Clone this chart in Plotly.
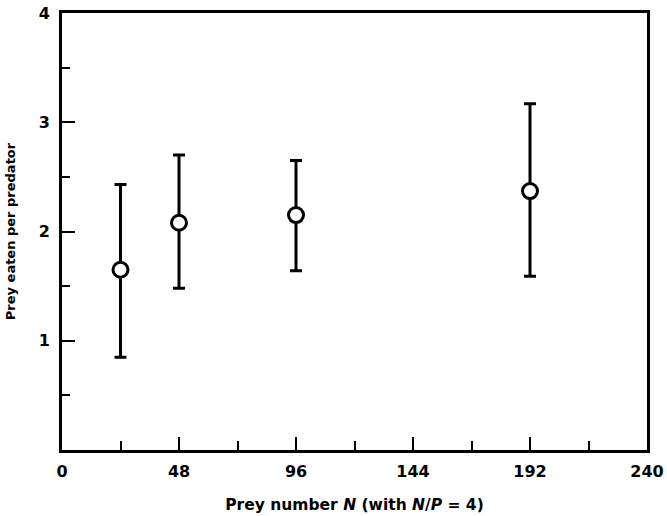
import plotly.graph_objects as go

prey_number = [24, 48, 96, 192]
prey_eaten = [1.65, 2.08, 2.15, 2.37]
err_upper = [2.43, 2.70, 2.65, 3.17]
err_lower = [0.85, 1.48, 1.64, 1.59]

x_ticks = [0, 48, 96, 144, 192, 240]
y_ticks = [1, 2, 3, 4]

plus = [u - m for u, m in zip(err_upper, prey_eaten)]
minus = [m - l for l, m in zip(err_lower, prey_eaten)]

font_fam = "DejaVu Sans"

fig = go.Figure()
fig.add_trace(go.Scatter(
    x=prey_number, y=prey_eaten, mode="markers",
    marker=dict(symbol="circle", size=15, color="white",
                line=dict(color="black", width=3)),
    error_y=dict(type="data", symmetric=False, array=plus, arrayminus=minus,
                 color="black", thickness=3, width=6),
    showlegend=False,
))

fig.update_layout(
    width=667, height=516,
    margin=dict(l=62, r=20, t=13, b=66),
    paper_bgcolor="white", plot_bgcolor="white",
    font=dict(family=font_fam, color="black"),
    xaxis=dict(
        range=[0, 240], tickvals=x_ticks, ticktext=[str(v) for v in x_ticks],
        ticks="inside", ticklen=13, tickwidth=2, tickcolor="black",
        minor=dict(dtick=24, tick0=0, ticks="inside", ticklen=9, tickwidth=2, tickcolor="black"),
        showline=True, linewidth=3, linecolor="black", mirror=True,
        showgrid=False, zeroline=False, automargin=False,
        tickfont=dict(size=16, weight="bold"), ticklabelstandoff=5,
        title=dict(text="Prey number <i>N</i> (with <i>N</i>/<i>P</i> = 4)",
                   font=dict(size=15.5, weight="bold"), standoff=19),
    ),
    yaxis=dict(
        range=[0, 4], tickvals=y_ticks, ticktext=[str(v) for v in y_ticks],
        ticks="inside", ticklen=13, tickwidth=2, tickcolor="black",
        minor=dict(dtick=0.5, tick0=0, ticks="inside", ticklen=8, tickwidth=2, tickcolor="black"),
        showline=True, linewidth=3, linecolor="black", mirror=True,
        showgrid=False, zeroline=False, automargin=False,
        tickfont=dict(size=16, weight="bold"), ticklabelstandoff=6,
        title=dict(text="Prey eaten per predator",
                   font=dict(size=13, weight="bold"), standoff=21),
    ),
)

fig.write_html("out.html")
